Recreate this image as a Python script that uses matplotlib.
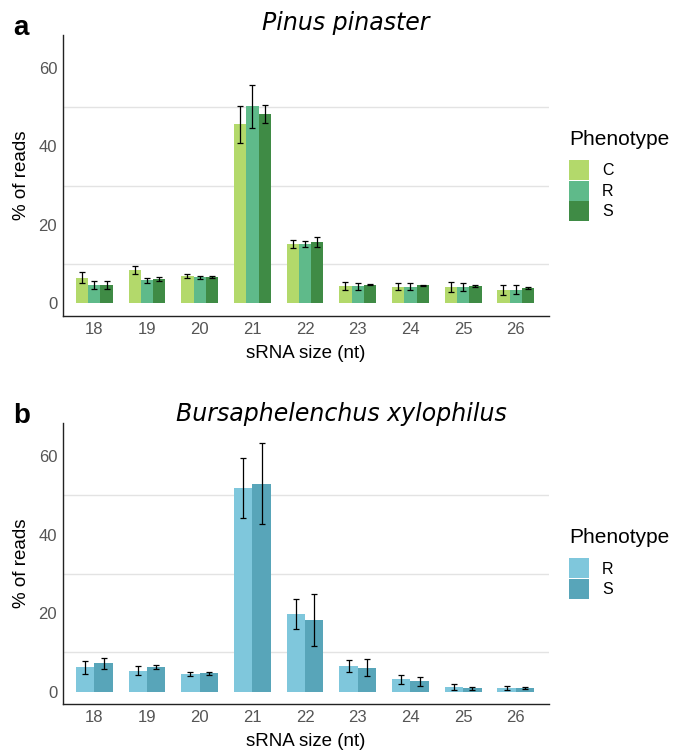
import numpy as np
import matplotlib.pyplot as plt
from matplotlib.patches import Patch

plt.rcParams['font.family'] = ['Liberation Sans', 'DejaVu Sans']

sizes = [18, 19, 20, 21, 22, 23, 24, 25, 26]

# Pinus pinaster
pine_groups = ['C', 'R', 'S']
pine_mean = {
    'C': [6.6, 8.5, 7.0, 45.6, 15.2, 4.4, 4.2, 4.2, 3.5],
    'R': [4.8, 5.9, 6.7, 50.2, 15.1, 4.4, 4.2, 4.2, 3.5],
    'S': [4.8, 6.2, 6.7, 48.2, 15.6, 4.8, 4.6, 4.5, 4.0],
}
pine_err = {
    'C': [1.3, 1.1, 0.6, 4.8, 1.0, 1.1, 0.9, 1.2, 1.3],
    'R': [1.0, 0.6, 0.4, 5.5, 0.8, 0.9, 0.9, 1.1, 1.1],
    'S': [1.0, 0.6, 0.2, 2.3, 1.3, 0.2, 0.2, 0.2, 0.2],
}
pine_colors = ['#b3d96b', '#5fba8a', '#3f8b45']

# Bursaphelenchus xylophilus
nema_groups = ['R', 'S']
nema_mean = {
    'R': [6.2, 5.4, 4.6, 51.8, 19.8, 6.5, 3.2, 1.2, 1.0],
    'S': [7.2, 6.2, 4.7, 52.9, 18.2, 6.1, 2.7, 0.85, 1.0],
}
nema_err = {
    'R': [1.65, 1.15, 0.5, 7.6, 3.8, 1.6, 1.15, 0.65, 0.5],
    'S': [1.4, 0.5, 0.35, 10.3, 6.6, 2.2, 1.15, 0.35, 0.3],
}
nema_colors = ['#7fc7dc', '#58a5b9']

W, H = 673, 752


def panel(ax, groups, mean, err, colors):
    x = np.array(sizes, dtype=float)
    w = 0.7 / len(groups)
    for i, g in enumerate(groups):
        off = (i - (len(groups) - 1) / 2) * w
        ax.bar(x + off, mean[g], width=w, color=colors[i], zorder=2)
        ax.errorbar(x + off, mean[g], yerr=err[g], fmt='none', ecolor='black',
                    elinewidth=0.9, capsize=2, capthick=0.9, zorder=3)
    for gy in [10, 30, 50]:
        ax.axhline(gy, color='#e3e3e3', lw=1, zorder=1)
    ax.set_xlim(17.4, 26.63)
    ax.set_ylim(-3.2, 68.4)
    ax.set_xticks(sizes)
    ax.set_yticks([0, 20, 40, 60])
    ax.tick_params(length=0, labelsize=12, labelcolor='#555555', pad=4)
    for s in ['top', 'right']:
        ax.spines[s].set_visible(False)
    for s in ['left', 'bottom']:
        ax.spines[s].set_color('#222222')
        ax.spines[s].set_linewidth(1)
    ax.set_ylabel('% of reads', fontsize=13.5, labelpad=6)
    ax.set_xlabel('sRNA size (nt)', fontsize=13.5, labelpad=6)
    handles = [Patch(facecolor=c, label=g) for g, c in zip(groups, colors)]
    leg = ax.legend(handles=handles, title='Phenotype', loc='center left',
                    bbox_to_anchor=(1.012, 0.5), frameon=False, fontsize=11.5,
                    title_fontsize=15, handlelength=1.25, handleheight=1.55,
                    labelspacing=0.03, handletextpad=0.8)
    leg._legend_box.align = 'left'
    leg._legend_box.sep = 8


fig = plt.figure(figsize=(W / 100, H / 100), dpi=100)
ax1 = fig.add_axes([0.0932, 0.5798, 0.7225, 0.3737])
ax2 = fig.add_axes([0.0932, 0.0634, 0.7225, 0.3741])
panel(ax1, pine_groups, pine_mean, pine_err, pine_colors)
panel(ax2, nema_groups, nema_mean, nema_err, nema_colors)

fig.text(346 / W, 1 - 30 / H, 'Pinus pinaster', fontsize=17, style='italic',
         family='DejaVu Sans', ha='center', va='baseline')
fig.text(341 / W, 1 - 421 / H, 'Bursaphelenchus xylophilus', fontsize=17,
         style='italic', family='DejaVu Sans', ha='center', va='baseline')
fig.text(13 / W, 1 - 35 / H, 'a', fontsize=20, fontweight='bold', va='baseline')
fig.text(13 / W, 1 - 423 / H, 'b', fontsize=20, fontweight='bold', va='baseline')

fig.savefig('out.png', dpi=100)
